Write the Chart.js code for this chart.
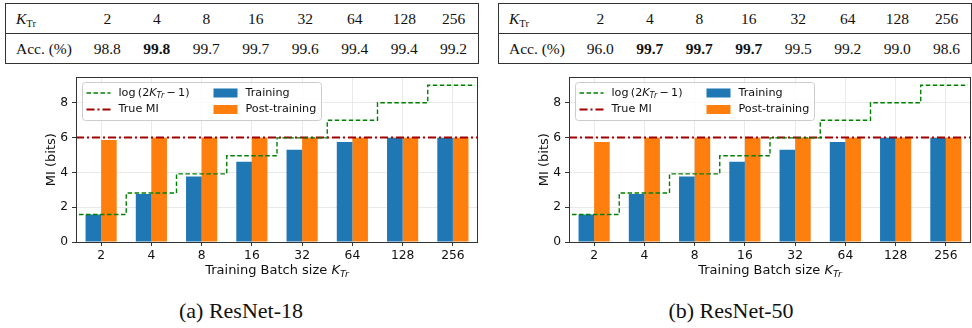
<!DOCTYPE html>
<html>
<head>
<meta charset="utf-8">
<script src="https://cdn.jsdelivr.net/npm/chart.js@4.4.1/dist/chart.umd.min.js"></script>
<style>
  html, body { margin: 0; padding: 0; background: #fff; width: 972px; height: 328px; overflow: hidden; }
  body { position: relative; }
  .tbl { position: absolute; top: 3px; border-collapse: collapse; table-layout: fixed;
         font-family: 'Liberation Serif', 'Times New Roman', serif; font-size: 15.5px; color: #111;
         border: 1px solid #333; }
  .tbl td { height: 29px; padding: 0; text-align: center; white-space: nowrap; }
  .tbl tr + tr td { border-top: 1px solid #333; }
  .tbl td.head { text-align: left; padding-left: 10px; }
  .tbl td.best { font-weight: bold; }
  .tbl sub { font-size: 0.68em; vertical-align: -0.3em; line-height: 0; }
  .plot { position: absolute; top: 66px; }
  .xtitle { position: absolute; top: 262px; width: 400px; text-align: center; white-space: nowrap;
            font-family: 'DejaVu Sans', sans-serif; font-size: 13px; line-height: 15px; color: #111; }
  .xtitle sub { font-size: 0.72em; vertical-align: -0.3em; line-height: 0; }
  .cap { position: absolute; top: 298px; width: 300px; text-align: center;
         font-family: 'Liberation Serif', 'Times New Roman', serif; font-size: 22px; line-height: 26px; color: #111; }
</style>
</head>
<body>
<table class="tbl" id="tbl-r18" style="left:5px"></table>
<table class="tbl" id="tbl-r50" style="left:498px"></table>
<canvas class="plot" id="chart-r18" width="486" height="220" style="left:0px"></canvas>
<canvas class="plot" id="chart-r50" width="486" height="220" style="left:493px"></canvas>
<div class="xtitle" style="left:77px">Training Batch size <i>K</i><sub><i>Tr</i></sub></div>
<div class="xtitle" style="left:570px">Training Batch size <i>K</i><sub><i>Tr</i></sub></div>
<div class="cap" style="left:91px">(a) ResNet-18</div>
<div class="cap" style="left:581px">(b) ResNet-50</div>
<script>
'use strict';

// DATA
const batchLabels = ['2', '4', '8', '16', '32', '64', '128', '256'];
const accR18 = [98.8, 99.8, 99.7, 99.7, 99.6, 99.4, 99.4, 99.2];
const accR50 = [96.0, 99.7, 99.7, 99.7, 99.5, 99.2, 99.0, 98.6];

const logBound = [1.58, 2.81, 3.91, 4.95, 5.98, 6.99, 7.99, 9.0];
const trueMI = 6;

const trainR18 = [1.58, 2.76, 3.76, 4.61, 5.29, 5.74, 5.98, 5.98];
const postR18 = [5.85, 5.98, 5.98, 5.98, 5.98, 5.98, 5.98, 5.98];
const trainR50 = [1.58, 2.76, 3.76, 4.61, 5.29, 5.74, 5.98, 5.98];
const postR50 = [5.74, 5.98, 5.98, 5.98, 5.98, 5.98, 5.98, 5.98];

const yTicks = [0, 2, 4, 6, 8];
const yMax = 9.45;

// STYLE
const BLUE = '#1f77b4';
const ORANGE = '#ff7f0e';
const GREEN = '#008000';
const DARKRED = '#a00000';
const SANS = "'DejaVu Sans', sans-serif";
const stepPad = 0.44;
const LEGEND_SIZE = 11.2;

// TABLES
function buildTable(el, acc) {
  let best = Math.max(...acc);
  let html = '<colgroup><col style="width:77px">';
  for (let i = 0; i < batchLabels.length; i++) html += '<col style="width:49.5px">';
  html += '</colgroup>';
  html += '<tr><td class="head"><i>K</i><sub>Tr</sub></td>';
  for (let b of batchLabels) html += `<td>${b}</td>`;
  html += '</tr><tr><td class="head">Acc. (%)</td>';
  for (let v of acc) html += `<td${v === best ? ' class="best"' : ''}>${v.toFixed(1)}</td>`;
  html += '</tr>';
  el.innerHTML = html;
}

buildTable(document.getElementById('tbl-r18'), accR18);
buildTable(document.getElementById('tbl-r50'), accR50);

// HELPERS
// bar points on the index positions of the categories
function indexPoints(vals) {
  return vals.map((v, i) => ({ x: i, y: v }));
}

// step line points, value changes halfway between categories
function stepPoints(vals) {
  let pts = [{ x: -stepPad, y: vals[0] }];
  for (let i = 1; i < vals.length; i++) {
    pts.push({ x: i - 0.5, y: vals[i] });
  }
  pts.push({ x: vals.length - 1 + stepPad, y: vals[vals.length - 1] });
  return pts;
}

// legend text with math bits
function drawParts(ctx, parts, x, y) {
  for (let p of parts) {
    let size = p.sub ? LEGEND_SIZE * 0.72 : LEGEND_SIZE;
    ctx.font = `${p.it ? 'italic ' : ''}${size}px ${SANS}`;
    ctx.fillText(p.t, x, y + (p.sub ? 3 : 0));
    x += ctx.measureText(p.t).width;
  }
}

// frame + legend inside the axes
const frameAndLegend = {
  id: 'frameAndLegend',
  afterDraw(chart) {
    const ctx = chart.ctx;
    const a = chart.chartArea;
    ctx.save();
    ctx.strokeStyle = '#333';
    ctx.lineWidth = 1;
    ctx.strokeRect(Math.round(a.left) + 0.5, Math.round(a.top) + 0.5,
      Math.round(a.right - a.left) - 1, Math.round(a.bottom - a.top));

    let bx = Math.round(a.left) + 6.5;
    let by = Math.round(a.top) + 5.5;
    ctx.beginPath();
    ctx.roundRect(bx, by, 239, 38, 3);
    ctx.fillStyle = 'rgba(255,255,255,0.8)';
    ctx.fill();
    ctx.strokeStyle = '#cccccc';
    ctx.stroke();

    let ds = chart.data.datasets;
    let rows = [by + 10.5, by + 27];
    ctx.textBaseline = 'middle';

    // column 1: lines
    [ds[2], ds[3]].forEach((d, i) => {
      ctx.save();
      ctx.strokeStyle = d.borderColor;
      ctx.lineWidth = d.borderWidth;
      ctx.setLineDash(d.borderDash);
      ctx.beginPath();
      ctx.moveTo(bx + 4, rows[i]);
      ctx.lineTo(bx + 28, rows[i]);
      ctx.stroke();
      ctx.restore();
      ctx.fillStyle = '#111';
      if (d.labelParts) {
        drawParts(ctx, d.labelParts, bx + 36, rows[i]);
      } else {
        ctx.font = `${LEGEND_SIZE}px ${SANS}`;
        ctx.fillText(d.label, bx + 36, rows[i]);
      }
    });

    // column 2: bar patches
    [ds[0], ds[1]].forEach((d, i) => {
      ctx.fillStyle = d.backgroundColor;
      ctx.fillRect(bx + 131, rows[i] - 4.5, 24, 9);
      ctx.fillStyle = '#111';
      ctx.font = `${LEGEND_SIZE}px ${SANS}`;
      ctx.fillText(d.label, bx + 163, rows[i]);
    });
    ctx.restore();
  }
};

function renderChart(canvasId, train, post) {
  const ctx = document.getElementById(canvasId).getContext('2d');
  return new Chart(ctx, {
    type: 'bar',
    data: {
      datasets: [
        {
          label: 'Training',
          data: indexPoints(train),
          backgroundColor: BLUE,
          order: 2,
          categoryPercentage: 0.62,
          barPercentage: 1.0
        },
        {
          label: 'Post-training',
          data: indexPoints(post),
          backgroundColor: ORANGE,
          order: 2,
          categoryPercentage: 0.62,
          barPercentage: 1.0
        },
        {
          type: 'line',
          label: 'log(2K_Tr − 1)',
          labelParts: [
            { t: 'log\u2009(2' },
            { t: 'K', it: true },
            { t: 'Tr', it: true, sub: true },
            { t: '\u2009\u2212\u20091)' }
          ],
          data: stepPoints(logBound),
          stepped: 'before',
          borderColor: GREEN,
          borderWidth: 1.4,
          borderDash: [4.5, 2.5],
          pointRadius: 0,
          fill: false,
          order: 0
        },
        {
          type: 'line',
          label: 'True MI',
          data: [{ x: -0.5, y: trueMI }, { x: batchLabels.length - 0.5, y: trueMI }],
          borderColor: DARKRED,
          borderWidth: 2,
          borderDash: [8, 3, 2, 3],
          pointRadius: 0,
          fill: false,
          order: 1
        }
      ]
    },
    options: {
      responsive: false,
      devicePixelRatio: 1,
      animation: false,
      layout: { padding: { top: 7, right: 8, left: 0, bottom: 0 } },
      plugins: {
        legend: { display: false },
        tooltip: { enabled: false }
      },
      scales: {
        x: {
          type: 'linear',
          offset: false,
          min: -0.5,
          max: batchLabels.length - 0.5,
          grid: { offset: false, color: '#e9e9e9', tickColor: '#333', tickLength: 4 },
          border: { display: false },
          ticks: {
            color: '#111', padding: 2, maxRotation: 0, autoSkip: false,
            font: { family: SANS, size: 12.3 },
            callback: (v) => batchLabels[v]
          },
          afterBuildTicks(scale) { scale.ticks = batchLabels.map((b, i) => ({ value: i })); },
          afterFit(scale) { scale.height = 44; }
        },
        y: {
          min: 0,
          max: yMax,
          grid: { color: '#e9e9e9', tickColor: '#333', tickLength: 4 },
          border: { display: false },
          ticks: { color: '#111', padding: 4, font: { family: SANS, size: 12.3 } },
          afterBuildTicks(scale) { scale.ticks = yTicks.map(v => ({ value: v })); },
          title: {
            display: true,
            text: 'MI (bits)',
            color: '#111',
            font: { family: SANS, size: 13 },
            padding: { top: 44, bottom: 0 }
          },
          afterFit(scale) { scale.width = 76; }
        }
      }
    },
    plugins: [frameAndLegend]
  });
}

renderChart('chart-r18', trainR18, postR18);
renderChart('chart-r50', trainR50, postR50);
</script>
</body>
</html>
